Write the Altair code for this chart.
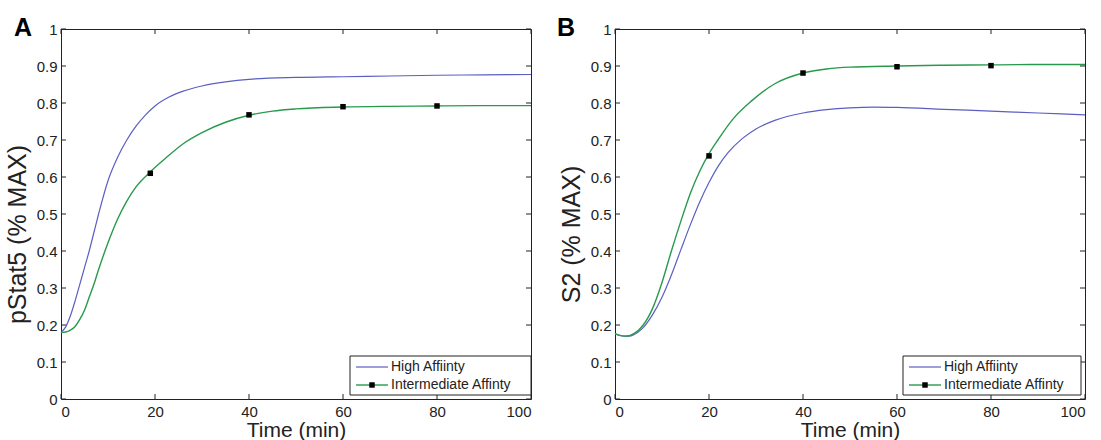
import altair as alt
import pandas as pd

# ---------------- data ----------------
x_ticks = [0, 20, 40, 60, 80, 100]
y_ticks = [0, 0.1, 0.2, 0.3, 0.4, 0.5, 0.6, 0.7, 0.8, 0.9, 1]
series_names = ["High Affiinty", "Intermediate Affinty"]
panel_letters = ["A", "B"]
y_titles = ["pStat5 (% MAX)", "S2 (% MAX)"]
x_title = "Time (min)"

# Panel A
a_high_t = [0, 1, 2, 3, 4, 5, 6, 7, 8, 10, 12, 14, 16, 18, 20, 23, 26, 30, 35, 40, 50, 60, 70, 80, 90, 100]
a_high_v = [0.180, 0.195, 0.225, 0.265, 0.310, 0.355, 0.400, 0.450, 0.500, 0.590, 0.652, 0.700, 0.738,
            0.768, 0.792, 0.816, 0.832, 0.846, 0.857, 0.864, 0.869, 0.871, 0.873, 0.875, 0.876, 0.877]
a_int_t = [0, 1, 2, 3, 4, 5, 6, 7, 8, 10, 12, 14, 16, 19, 22, 26, 30, 35, 40, 45, 50, 60, 70, 80, 90, 100]
a_int_v = [0.180, 0.181, 0.186, 0.196, 0.215, 0.240, 0.275, 0.310, 0.350, 0.422, 0.485, 0.535, 0.574,
           0.614, 0.648, 0.690, 0.720, 0.748, 0.767, 0.778, 0.784, 0.789, 0.791, 0.792, 0.793, 0.793]
a_mark_t = [19, 40, 60, 80]
a_mark_v = [0.610, 0.768, 0.790, 0.792]

# Panel B
b_high_t = [0, 1, 2, 3, 4, 5, 6, 8, 10, 12, 14, 16, 18, 20, 22, 24, 27, 30, 34, 40, 45, 50, 55, 60, 70, 80, 90, 100]
b_high_v = [0.177, 0.172, 0.170, 0.170, 0.174, 0.182, 0.193, 0.228, 0.275, 0.335, 0.403, 0.470, 0.532,
            0.585, 0.630, 0.665, 0.703, 0.730, 0.753, 0.773, 0.782, 0.787, 0.789, 0.788, 0.783, 0.778,
            0.773, 0.768]
b_int_t = [0, 1, 2, 3, 4, 5, 6, 8, 10, 12, 14, 16, 18, 20, 22, 25, 29, 34, 40, 45, 50, 60, 70, 80, 90, 100]
b_int_v = [0.177, 0.172, 0.170, 0.171, 0.177, 0.186, 0.200, 0.245, 0.315, 0.400, 0.480, 0.555, 0.615,
           0.663, 0.702, 0.755, 0.805, 0.852, 0.881, 0.892, 0.897, 0.900, 0.902, 0.903, 0.904, 0.904]
b_mark_t = [20, 40, 60, 80]
b_mark_v = [0.657, 0.881, 0.898, 0.901]

# ---------------- style ----------------
W, H = 470, 370
BLUE = "#5a5fc2"
GREEN = "#279a4c"
INK = "#222222"
FONT = "Liberation Sans"


def one_row():
    return pd.DataFrame({"k": [0]})


def panel(letter, letter_x, ytitle, ht, hv, it, iv, mt, mv, legend_box):
    xs = alt.Scale(domain=[0, 100], nice=False)
    ys = alt.Scale(domain=[0, 1], nice=False)
    xax = alt.Axis(values=x_ticks, title=x_title, labelPadding=5, titlePadding=0,
                   labelFontSize=15, titleFontSize=21)
    yax = alt.Axis(values=y_ticks, title=ytitle, format="~g", labelPadding=4, titlePadding=6,
                   labelFontSize=15, titleFontSize=25, titleY=205)

    high = alt.Chart(pd.DataFrame({"t": ht, "v": hv})).mark_line(
        color=BLUE, strokeWidth=1.2, interpolate="monotone"
    ).encode(x=alt.X("t:Q", scale=xs, axis=xax), y=alt.Y("v:Q", scale=ys, axis=yax))
    inter = alt.Chart(pd.DataFrame({"t": it, "v": iv})).mark_line(
        color=GREEN, strokeWidth=1.4, interpolate="monotone"
    ).encode(x=alt.X("t:Q", scale=xs, axis=xax), y=alt.Y("v:Q", scale=ys, axis=yax))
    marks = alt.Chart(pd.DataFrame({"t": mt, "v": mv})).mark_square(
        color="black", size=30, opacity=1
    ).encode(x=alt.X("t:Q", scale=xs, axis=xax), y=alt.Y("v:Q", scale=ys, axis=yax))

    xt = pd.DataFrame({"t": x_ticks})
    yt = pd.DataFrame({"v": y_ticks})
    tick_style = dict(color=INK, strokeWidth=1)
    tb = alt.Chart(xt).mark_rule(**tick_style).encode(
        x=alt.X("t:Q", scale=xs, axis=xax), y=alt.value(H), y2=alt.value(H - 5))
    tt = alt.Chart(xt).mark_rule(**tick_style).encode(
        x=alt.X("t:Q", scale=xs, axis=xax), y=alt.value(0), y2=alt.value(5))
    tl = alt.Chart(yt).mark_rule(**tick_style).encode(
        y=alt.Y("v:Q", scale=ys, axis=yax), x=alt.value(0), x2=alt.value(5))
    tr = alt.Chart(yt).mark_rule(**tick_style).encode(
        y=alt.Y("v:Q", scale=ys, axis=yax), x=alt.value(W), x2=alt.value(W - 5))

    # legend box
    lx0, lx1, ly0, ly1 = legend_box
    box = alt.Chart(one_row()).mark_rect(fill="white", stroke=INK, strokeWidth=1).encode(
        x=alt.value(lx0), x2=alt.value(lx1), y=alt.value(ly0), y2=alt.value(ly1))
    r1y, r2y = 338, 356
    s1 = alt.Chart(one_row()).mark_rule(color=BLUE, strokeWidth=1.2).encode(
        x=alt.value(lx0 + 6), x2=alt.value(lx0 + 38), y=alt.value(r1y))
    s2 = alt.Chart(one_row()).mark_rule(color=GREEN, strokeWidth=1.4).encode(
        x=alt.value(lx0 + 6), x2=alt.value(lx0 + 38), y=alt.value(r2y))
    s2m = alt.Chart(one_row()).mark_square(color="black", size=30, opacity=1).encode(
        x=alt.value(lx0 + 22), y=alt.value(r2y))
    txt_style = dict(align="left", baseline="middle", font=FONT, fontSize=14, color=INK)
    t1 = alt.Chart(one_row()).mark_text(**txt_style).encode(
        x=alt.value(lx0 + 41), y=alt.value(r1y), text=alt.value(series_names[0]))
    t2 = alt.Chart(one_row()).mark_text(**txt_style).encode(
        x=alt.value(lx0 + 41), y=alt.value(r2y), text=alt.value(series_names[1]))

    lt = alt.Chart(one_row()).mark_text(
        align="left", baseline="alphabetic", font=FONT, fontSize=25, fontWeight="bold", color="black"
    ).encode(x=alt.value(letter_x), y=alt.value(7), text=alt.value(letter))

    return alt.layer(high, inter, marks, tb, tt, tl, tr, box, s1, s2, s2m, t1, t2, lt).properties(
        width=W, height=H)


pa = panel(panel_letters[0], -47, y_titles[0], a_high_t, a_high_v, a_int_t, a_int_v,
           a_mark_t, a_mark_v, (289, 470, 327, 366))
pb = panel(panel_letters[1], -58, y_titles[1], b_high_t, b_high_v, b_int_t, b_int_v,
           b_mark_t, b_mark_v, (288, 466, 327, 366))

chart = alt.hconcat(pa, pb, spacing=21).properties(
    padding={"left": 4, "top": 15, "right": 0, "bottom": 0},
    background="white",
).configure_view(stroke=INK, strokeWidth=1).configure_axis(
    domain=False, ticks=False, grid=False, labelFont=FONT, titleFont=FONT,
    labelColor=INK, titleColor=INK, titleFontWeight="normal"
)

chart.save("out.html", embed_options={"renderer": "svg", "actions": False})
